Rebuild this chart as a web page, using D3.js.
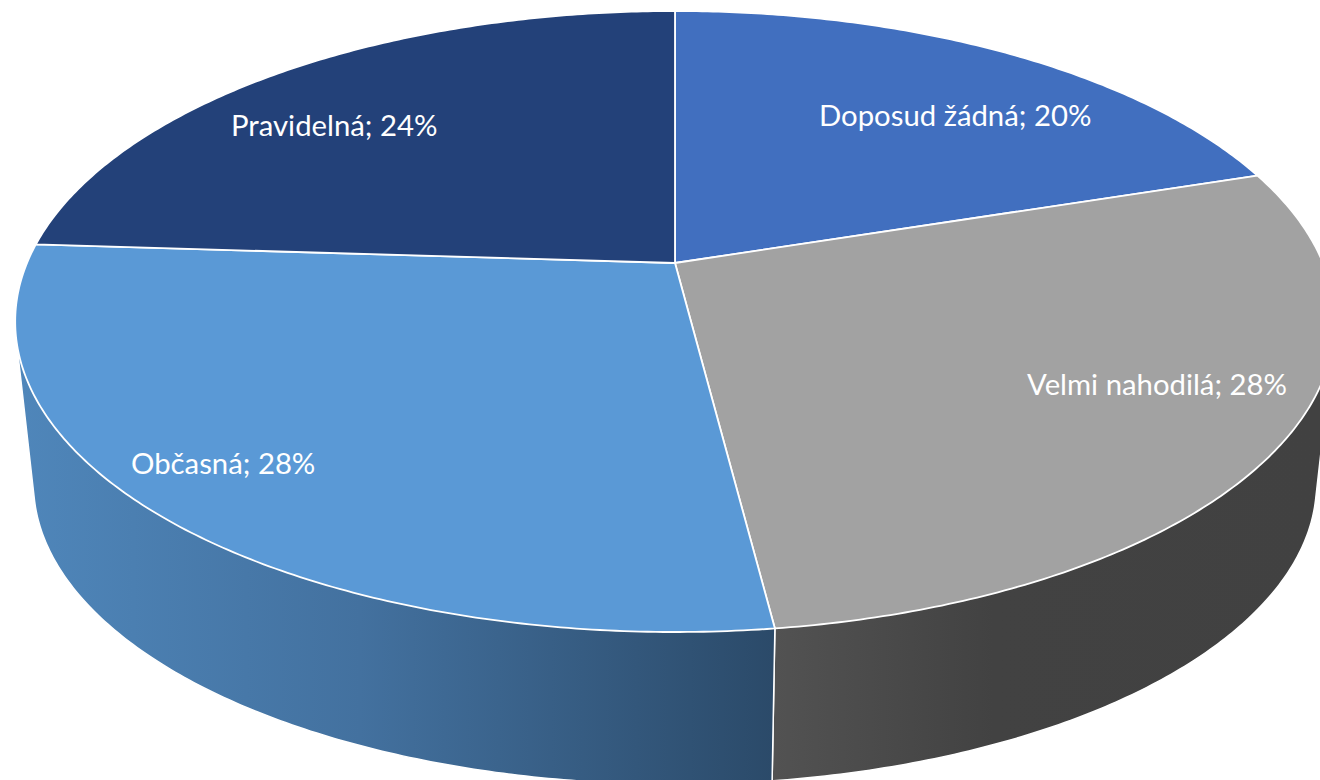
<!DOCTYPE html>
<html lang="cs">
<head>
<meta charset="utf-8">
<style>
html,body{margin:0;padding:0;background:#fff;overflow:hidden}
svg{display:block}
text{font-family:Lato,"Open Sans",sans-serif;fill:#fff}
</style>
<script src="https://cdn.jsdelivr.net/npm/d3@7"></script>
</head>
<body>
<svg id="chart" width="1320" height="780"></svg>
<script>
const categories = ["Doposud žádná","Velmi nahodilá","Občasná","Pravidelná"];
const values = [20,28,28,24];
const topColors = ["#416fbf","#a2a2a2","#5a99d6","#234179"];

// Presentation only: label anchors and the perspective of the disc
const labelAnchors = [[819,126],[1027,395],[131,474],[231,136]];
const labelFontSize = 29.3;
const topPlane = {cx:675, cy:263, sx:648, sy:299.5, k:0.1884};
const basePlane = {cx:675, cy:427, sx:630, sy:290, k:0.1884};

const project = (plane,a) => {
  const x = Math.sin(a), y = -Math.cos(a), w = 1 - plane.k*y;
  return [plane.cx + plane.sx*x/w, plane.cy + plane.sy*y/w];
};
const arcPoints = (plane,a0,a1) => {
  const n = Math.max(2, Math.ceil((a1-a0)/0.01));
  return d3.range(n+1).map(i => project(plane, a0+(a1-a0)*i/n));
};

const svg = d3.select("#chart");
const defs = svg.append("defs");
const addGradient = (id,x1,x2,stops) => {
  const g = defs.append("linearGradient").attr("id",id)
    .attr("gradientUnits","userSpaceOnUse")
    .attr("x1",x1).attr("x2",x2).attr("y1",0).attr("y2",0);
  stops.forEach(s => g.append("stop").attr("offset",s[0]).attr("stop-color",s[1]));
};
addGradient("sideBlue",20,775,[[0,"#4f86ba"],[0.45,"#43719f"],[1,"#2b4a69"]]);
addGradient("sideGrey",775,1320,[[0,"#525252"],[0.4,"#424242"],[1,"#414141"]]);

const slices = d3.pie().sort(null).value(d=>d)(values);
const line = d3.line().curve(d3.curveLinearClosed);

// Side walls of the two slices that face the viewer
const sideFills = {1:"url(#sideGrey)",2:"url(#sideBlue)"};
svg.append("g").selectAll("path")
  .data(slices.filter(s => sideFills[s.index]))
  .join("path")
  .attr("d", s => line(d3.polygonHull([
      ...arcPoints(topPlane,s.startAngle,s.endAngle),
      ...arcPoints(basePlane,s.startAngle,s.endAngle)])))
  .attr("fill", s => sideFills[s.index])
  .attr("stroke","#fff").attr("stroke-width",1.5).attr("stroke-linejoin","round");

// Top face
svg.append("g").selectAll("path")
  .data(slices)
  .join("path")
  .attr("d", s => line([[topPlane.cx,topPlane.cy], ...arcPoints(topPlane,s.startAngle,s.endAngle)]))
  .attr("fill",(s,i)=>topColors[i])
  .attr("stroke","#fff").attr("stroke-width",1.8).attr("stroke-linejoin","round");

// Labels
svg.append("g").selectAll("text")
  .data(slices)
  .join("text")
  .attr("x",(s,i)=>labelAnchors[i][0])
  .attr("y",(s,i)=>labelAnchors[i][1])
  .attr("font-size",labelFontSize)
  .text((s,i)=>`${categories[i]}; ${values[i]}%`);
</script>
</body>
</html>
